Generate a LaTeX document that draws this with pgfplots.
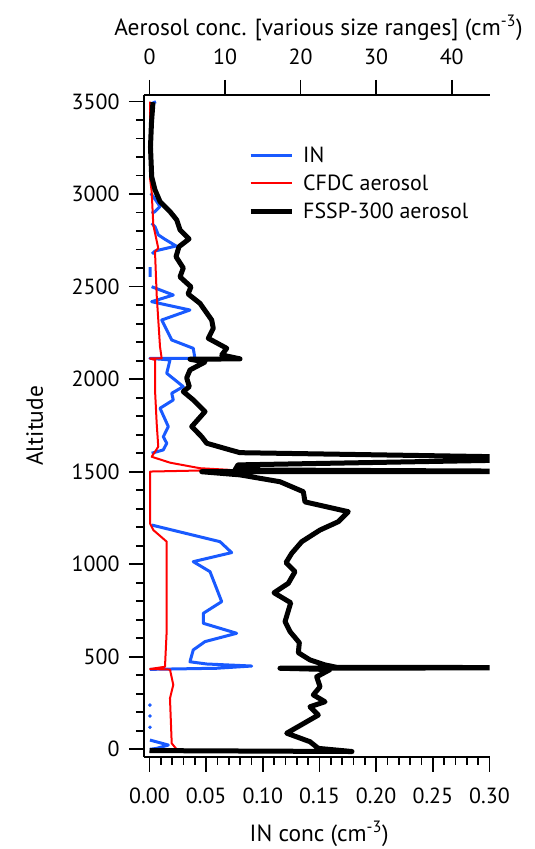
\documentclass[border=0pt]{standalone}
\usepackage{fontspec}
\setmainfont{PT Sans}
\usepackage{pgfplots}
\pgfplotsset{compat=1.18}
\definecolor{inblue}{RGB}{25,90,255}
\definecolor{cfred}{RGB}{255,0,0}
\begin{document}
\begin{tikzpicture}
\useasboundingbox (-144bp,-92.3bp) rectangle (391bp,756.7bp);
\pgfplotsset{
  common/.style={
    scale only axis, width=345.5bp, height=661.7bp,
    ymin=-40, ymax=3536,
    axis line style={line width=1.6bp},
    every tick/.style={line width=1.6bp, black},
    tick align=outside,
    major tick length=15bp, minor tick length=8bp,
    tick label style={font=\fontsize{22}{26}\selectfont},
    /pgf/number format/assume math mode=true,
    scaled x ticks=false,
    line join=round,
  },
}
\begin{axis}[common,
  xmin=-0.00485, xmax=0.30,
  axis x line*=bottom, axis y line*=left,
  xtick={0,0.05,0.1,0.15,0.2,0.25,0.3}, minor x tick num=4,
  ytick={0,500,1000,1500,2000,2500,3000,3500}, minor y tick num=4,
  xticklabel style={yshift=-13bp, /pgf/number format/.cd, fixed, fixed zerofill, precision=2},
  yticklabel style={xshift=-6bp, /pgf/number format/1000 sep={}},
  every axis x label/.style={at={([yshift=-85bp]rel axis cs:0.507,0)}, anchor=base, font=\fontsize{23.5}{28}\selectfont},
  every axis y label/.style={at={([xshift=-101bp]rel axis cs:0,0.5)}, rotate=90, anchor=base, font=\fontsize{23.5}{28}\selectfont},
  xlabel={IN conc (cm\textsuperscript{-3})},
  ylabel={Altitude},
]
\addplot[inblue, line width=3bp, unbounded coords=jump] table {
x y
0.0013 3488
0.0057 3500
nan nan
0.0011 3005
0.0064 2960
0.0093 2933
0.0049 2906
0.0019 2897
nan nan
0.0019 2843
0.0049 2824
0.0078 2780
0.0137 2756
0.0235 2720
0.0049 2693
0.0022 2677
nan nan
0.0005 2606
0.0005 2553
nan nan
0.0019 2500
0.0210 2455
0.0019 2419
0.0357 2374
0.0108 2320
0.0196 2212
0.0386 2167
0.0401 2113
0.0004 2113
0.0181 2104
0.0152 2032
0.0298 1960
0.0196 1924
0.0210 1888
0.0093 1843
0.0166 1744
0.0122 1689
0.0152 1654
0.0122 1618
0.0019 1600
nan nan
0.0019 1212
0.0622 1122
0.0725 1063
0.0386 1014
0.0534 960
0.0637 798
0.0475 735
0.0475 681
0.0769 627
0.0490 582
0.0386 537
0.0357 473
0.0505 461
0.0902 450
0.0593 438
0.0199 434
0.0004 432
nan nan
0.0004 50
0.0166 23
0.0064 5
0.0004 0
};
\addplot[inblue, only marks, mark=*, mark size=1.6bp] table {
x y
0.0004 239
0.0004 180
0.0004 119
};
\end{axis}
\begin{axis}[common,
  xmin=-0.728, xmax=45,
  axis x line*=top, axis y line=none, ytick=\empty,
  xtick={0,10,20,30,40},
  xticklabel style={yshift=12bp},
  every axis x label/.style={at={([yshift=59bp]rel axis cs:0.505,1)}, anchor=base, font=\fontsize{23.5}{28}\selectfont},
  xlabel={Aerosol conc. [various size ranges] (cm\textsuperscript{-3})},
  legend image code/.code={\draw[#1, line cap=butt] (0bp,0bp) -- (41bp,0bp);},
  legend cell align=left,
  legend style={at={(0.301,0.925)}, anchor=north west, draw=none, fill=none,
    inner sep=0pt, row sep=7bp, font=\fontsize{22}{26}\selectfont,
    /tikz/every odd column/.style={column sep=7bp}},
]
\addlegendimage{inblue, line width=3bp}
\addlegendentry{IN}
\addplot[cfred, line width=2bp] table {
x y
0.07 3500
0.07 3086
0.29 3014
0.50 2834
1.16 2708
0.73 2689
0.95 2455
1.39 2176
1.61 2113
0.07 2112
0.73 2104
0.73 1942
0.95 1762
1.16 1635
0.29 1581
2.71 1549
6.68 1519
10.66 1510
0.07 1501
0.07 1221
0.50 1185
2.28 1122
2.28 645
2.05 446
0.07 434
2.71 431
3.15 348
2.71 276
2.94 32
3.60 0
};
\addlegendentry{CFDC aerosol}
\addplot[black, line width=5bp] table {
x y
0.46 3497
0.26 3385
0.13 3255
0.29 3095
0.73 3023
1.39 2960
2.71 2906
3.60 2861
4.04 2807
5.23 2758
3.90 2716
3.51 2662
4.47 2601
4.04 2553
5.49 2499
5.10 2461
6.68 2410
8.23 2320
8.44 2275
7.78 2221
10.22 2167
9.56 2131
11.98 2110
5.36 2108
7.35 2093
5.36 2050
4.92 2007
5.27 1960
4.47 1933
5.80 1888
7.35 1825
5.59 1744
6.91 1689
7.57 1654
10.66 1618
11.98 1603
60 1572
11.71 1537
11.32 1510
60 1501
6.91 1500
11.98 1483
17.27 1446
20.36 1392
20.58 1337
26.31 1284
24.99 1230
22.57 1185
20.15 1122
18.82 1059
18.07 1009
19.26 960
18.37 897
16.48 846
18.69 792
17.94 690
18.60 636
19.83 576
19.70 522
21.24 483
23.23 456
24.78 443
60 441
17.27 438
23.90 431
22.13 392
22.57 338
21.68 294
23.23 257
21.24 230
22.34 185
18.16 87
21.24 41
22.34 5
26.80 -12
0 -7
};
\addlegendentry{FSSP-300 aerosol}
\end{axis}
\end{tikzpicture}
\end{document}
